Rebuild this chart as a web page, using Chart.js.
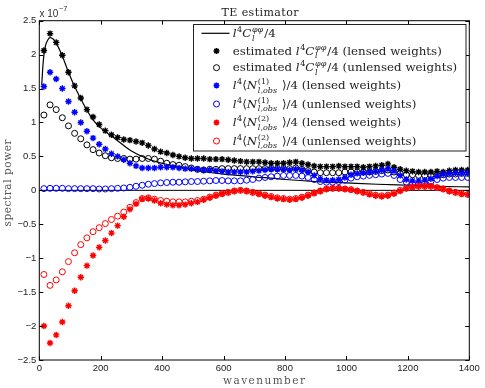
<!DOCTYPE html>
<html><head><meta charset="utf-8">
<script src="https://cdn.jsdelivr.net/npm/chart.js@4/dist/chart.umd.min.js"></script>
<style>html,body{margin:0;padding:0;background:#fff;}#wrap{width:485px;height:388px;}</style>
</head><body><div id="wrap"><canvas id="c" width="485" height="388"></canvas></div>
<script>
// ---- data (values in units of 1e-7) ----
const wavenumbers = [15,35,55,75,95,115,135,155,175,195,
 215,235,255,275,295,315,335,355,375,395,
 415,435,455,475,495,515,535,555,575,595,
 615,635,655,675,695,715,735,755,775,795,
 815,835,855,875,895,915,935,955,975,995,
 1015,1035,1055,1075,1095,1115,1135,1155,1175,1195,
 1215,1235,1255,1275,1295,1315,1335,1355,1375,1395];
const estLensed = [2.06,2.31,2.18,1.99,1.74,1.54,1.36,1.19,1.08,0.97,
 0.88,0.82,0.78,0.75,0.74,0.72,0.70,0.66,0.61,0.57,
 0.55,0.52,0.50,0.48,0.47,0.47,0.47,0.46,0.46,0.46,
 0.45,0.44,0.43,0.42,0.42,0.42,0.41,0.40,0.40,0.40,
 0.41,0.42,0.40,0.38,0.36,0.35,0.35,0.35,0.36,0.35,
 0.35,0.35,0.34,0.35,0.36,0.37,0.39,0.34,0.31,0.29,
 0.28,0.27,0.27,0.27,0.28,0.27,0.29,0.30,0.30,0.30];
const estUnlensed = [1.11,1.26,1.19,1.07,0.95,0.84,0.76,0.67,0.60,0.55,
 0.51,0.48,0.47,0.47,0.46,0.46,0.47,0.47,0.46,0.43,
 0.40,0.38,0.37,0.35,0.33,0.31,0.30,0.31,0.31,0.32,
 0.32,0.32,0.32,0.32,0.32,0.32,0.32,0.32,0.32,0.32,
 0.32,0.33,0.31,0.29,0.27,0.26,0.26,0.26,0.26,0.27,
 0.27,0.27,0.27,0.27,0.28,0.29,0.30,0.27,0.25,0.23,
 0.23,0.22,0.22,0.22,0.23,0.23,0.24,0.24,0.25,0.25];
const n1Lensed = [1.53,1.74,1.64,1.50,1.31,1.15,1.00,0.87,0.77,0.68,
 0.61,0.54,0.50,0.45,0.40,0.36,0.33,0.33,0.33,0.34,
 0.34,0.34,0.33,0.32,0.32,0.31,0.30,0.30,0.29,0.28,
 0.27,0.27,0.27,0.27,0.28,0.29,0.30,0.31,0.31,0.31,
 0.30,0.31,0.30,0.27,0.22,0.17,0.15,0.15,0.16,0.19,
 0.23,0.25,0.26,0.27,0.28,0.30,0.32,0.29,0.22,0.16,
 0.14,0.14,0.15,0.17,0.21,0.24,0.25,0.26,0.26,0.26];
const n1Unlensed = [0.025,0.03,0.03,0.03,0.025,0.025,0.025,0.025,0.025,0.02,
 0.02,0.025,0.03,0.035,0.045,0.06,0.075,0.09,0.10,0.11,
 0.115,0.12,0.12,0.125,0.13,0.13,0.135,0.14,0.145,0.145,
 0.14,0.14,0.14,0.15,0.16,0.18,0.19,0.20,0.21,0.22,
 0.22,0.22,0.21,0.19,0.16,0.13,0.12,0.12,0.13,0.15,
 0.18,0.20,0.21,0.22,0.23,0.24,0.25,0.22,0.16,0.12,
 0.10,0.10,0.11,0.13,0.16,0.18,0.19,0.19,0.19,0.19];
const n2Lensed = [-2.00,-2.25,-2.13,-1.94,-1.70,-1.48,-1.28,-1.11,-0.96,-0.84,
 -0.74,-0.63,-0.52,-0.39,-0.28,-0.20,-0.13,-0.12,-0.15,-0.19,
 -0.21,-0.22,-0.22,-0.21,-0.19,-0.17,-0.14,-0.11,-0.08,-0.05,
 -0.03,-0.01,0.00,-0.01,-0.03,-0.05,-0.08,-0.10,-0.12,-0.13,
 -0.14,-0.13,-0.11,-0.08,-0.04,-0.01,0.02,0.03,0.03,0.02,
 0.01,-0.01,-0.03,-0.06,-0.08,-0.09,-0.08,-0.05,-0.01,0.03,
 0.05,0.06,0.06,0.06,0.04,0.02,-0.01,-0.03,-0.05,-0.06];
const n2Unlensed = [-1.24,-1.40,-1.32,-1.20,-1.05,-0.92,-0.80,-0.70,-0.61,-0.55,
 -0.49,-0.43,-0.38,-0.32,-0.25,-0.18,-0.12,-0.11,-0.13,-0.15,
 -0.16,-0.17,-0.17,-0.17,-0.16,-0.15,-0.13,-0.10,-0.07,-0.05,
 -0.03,-0.01,0.00,-0.01,-0.03,-0.05,-0.07,-0.09,-0.11,-0.12,
 -0.13,-0.12,-0.10,-0.07,-0.04,-0.01,0.02,0.03,0.03,0.02,
 0.01,-0.01,-0.03,-0.05,-0.07,-0.08,-0.07,-0.04,0.00,0.03,
 0.05,0.06,0.06,0.06,0.04,0.02,-0.01,-0.03,-0.05,-0.06];
const theoryL = [8,12,16,20,28,35,45,55,75,95,115,135,155,175,200,250,300,350,400,500,600,700,800,900,1000,1100,1200,1300,1400];
const theoryV = [1.55,1.85,2.03,2.13,2.22,2.25,2.23,2.17,1.98,1.74,1.53,1.35,1.18,1.04,0.92,0.75,0.58,0.47,0.40,0.30,0.24,0.20,0.16,0.13,0.11,0.09,0.075,0.06,0.05];
const zeroL = [0,1400];
const zeroV = [0,0];
const xTicks = [0,200,400,600,800,1000,1200,1400];
const yTicks = [-2.5,-2,-1.5,-1,-0.5,0,0.5,1,1.5,2,2.5];

const pts = (xs, ys) => xs.map((x,i)=>({x, y:ys[i]}));
const SERIF = '"DejaVu Serif", serif';
const SANS = '"Liberation Sans", Arial, sans-serif';

// legend text pieces
const Cpp = [['l','i'],['4','sup'],['C','i'],{sup:'φφ',supI:true,sub:'l',subI:true},['/4','n']];
const Nk = k => [['l','i'],['4','sup'],['⟨','n'],['N','i'],{sup:'('+k+')',supI:false,sub:'l,obs',subI:true},[' ⟩/4','n']];
const legendRows = [
  {kind:'line', color:'#000', text:Cpp},
  {kind:'star', color:'#000', text:[['estimated ','n'],...Cpp,[' (lensed weights)','n']]},
  {kind:'circle', color:'#000', text:[['estimated ','n'],...Cpp,[' (unlensed weights)','n']]},
  {kind:'star', color:'#0000ff', text:[...Nk(1),[' (lensed weights)','n']]},
  {kind:'circle', color:'#0000ff', text:[...Nk(1),[' (unlensed weights)','n']]},
  {kind:'star', color:'#ff0000', text:[...Nk(2),[' (lensed weights)','n']]},
  {kind:'circle', color:'#ff0000', text:[...Nk(2),[' (unlensed weights)','n']]}
];
const legendRowY = [33.3,51,67.7,85.5,104,122.5,141];

function rich(ctx, segs, x, y, s, draw){
  const f = (size,it)=>(it?'italic ':'')+size.toFixed(2)+'px '+SERIF;
  let cx = x;
  for (const g of segs){
    if (g.sup !== undefined){
      ctx.font = f(s*0.68, g.supI); const w1 = ctx.measureText(g.sup).width;
      if (draw) ctx.fillText(g.sup, cx, y - s*0.4);
      ctx.font = f(s*0.68, g.subI); const w2 = ctx.measureText(g.sub).width;
      if (draw) ctx.fillText(g.sub, cx, y + s*0.32);
      cx += Math.max(w1,w2) + 1;
    } else {
      const t=g[0], st=g[1];
      const small = st==='sup';
      ctx.font = f(small ? s*0.68 : s, st==='i');
      if (draw) ctx.fillText(t, cx, small ? y - s*0.4 : y);
      cx += ctx.measureText(t).width + (st==='i'?0.6:0);
    }
  }
  return cx - x;
}
function spaced(ctx, text, cx, y, target){
  const ws = [...text].map(ch=>ctx.measureText(ch).width);
  const sum = ws.reduce((a,b)=>a+b,0);
  const gap = Math.max(0,(target-sum)/(ws.length-1));
  let x = cx - (sum + gap*(ws.length-1))/2;
  [...text].forEach((ch,i)=>{ ctx.fillText(ch, x, y); x += ws[i]+gap; });
}
function drawStar(ctx,x,y,r){
  ctx.beginPath();
  ctx.moveTo(x-r,y); ctx.lineTo(x+r,y);
  ctx.moveTo(x,y-r); ctx.lineTo(x,y+r);
  const d=r*0.7071;
  ctx.moveTo(x-d,y-d); ctx.lineTo(x+d,y+d);
  ctx.moveTo(x-d,y+d); ctx.lineTo(x+d,y-d);
  ctx.stroke();
}

const framePlugin = {
  id:'frame',
  afterDatasetsDraw(chart){
    const {ctx, chartArea:a, scales:{x,y}} = chart;
    ctx.save();
    ctx.strokeStyle='#000'; ctx.lineWidth=1;
    ctx.strokeRect(a.left, a.top, a.right-a.left, a.bottom-a.top);
    ctx.beginPath();
    xTicks.forEach(v=>{const p=Math.round(x.getPixelForValue(v))+0.5; ctx.moveTo(p,a.bottom); ctx.lineTo(p,a.bottom-4); ctx.moveTo(p,a.top); ctx.lineTo(p,a.top+4);});
    yTicks.forEach(v=>{const p=Math.round(y.getPixelForValue(v))+0.5; ctx.moveTo(a.left,p); ctx.lineTo(a.left+4,p); ctx.moveTo(a.right,p); ctx.lineTo(a.right-4,p);});
    ctx.stroke();
    ctx.restore();
  },
  afterDraw(chart){
    const ctx = chart.ctx;
    ctx.save();
    ctx.textBaseline='alphabetic';
    // title
    ctx.fillStyle='#222';
    ctx.font='11px '+SERIF;
    spaced(ctx,'TE estimator',260,15.5,77);
    // axis titles
    ctx.fillStyle='#555';
    ctx.font='10.5px '+SERIF;
    spaced(ctx,'wavenumber',264,384,82);
    ctx.save(); ctx.translate(11,183); ctx.rotate(-Math.PI/2);
    spaced(ctx,'spectral power',0,0,87);
    ctx.restore();
    // exponent label
    ctx.fillStyle='#333';
    ctx.font='10px '+SANS;
    ctx.fillText('x 10',39.5,16.5);
    const wx = ctx.measureText('x 10').width;
    ctx.font='7.5px '+SANS;
    ctx.fillText('\u22127',39.5+wx+0.5,11);
    // legend box
    const L=193.5,T=24.5,R=466,B=151;
    ctx.fillStyle='#fff'; ctx.fillRect(L,T,R-L,B-T);
    ctx.strokeStyle='#222'; ctx.lineWidth=1; ctx.strokeRect(L,T,R-L,B-T);
    const w10 = rich(ctx, legendRows[2].text, 0, 0, 10, false);
    const s = 10*225/w10;
    legendRows.forEach((row,i)=>{
      const cy = legendRowY[i];
      ctx.strokeStyle=row.color; ctx.fillStyle=row.color;
      if(row.kind==='line'){ ctx.lineWidth=1.2; ctx.beginPath(); ctx.moveTo(201.5,cy); ctx.lineTo(229.5,cy); ctx.stroke(); }
      else if(row.kind==='star'){ ctx.lineWidth=1.5; drawStar(ctx,216.5,cy,3); }
      else { ctx.lineWidth=1; ctx.beginPath(); ctx.arc(216.5,cy,3,0,Math.PI*2); ctx.stroke(); }
      ctx.fillStyle='#222';
      rich(ctx,row.text,232.7,cy+3.5,s,true);
    });
    ctx.restore();
  }
};

const starDS = (label,data,color,order)=>({label,data,showLine:false,pointStyle:'star',pointRadius:3.2,pointBorderWidth:1.4,borderColor:color,backgroundColor:color,order});
const circDS = (label,data,color,order)=>({label,data,showLine:false,pointStyle:'circle',pointRadius:3,pointBorderWidth:1,borderColor:color,backgroundColor:'rgba(0,0,0,0)',order});

new Chart(document.getElementById('c'),{
  type:'scatter',
  data:{datasets:[
    {label:'theory',data:pts(theoryL,theoryV),showLine:true,pointRadius:0,borderColor:'#000',borderWidth:1.2,cubicInterpolationMode:'monotone',order:9},
    starDS('est lensed',pts(wavenumbers,estLensed),'#000',8),
    circDS('est unlensed',pts(wavenumbers,estUnlensed),'#000',7),
    starDS('N1 lensed',pts(wavenumbers,n1Lensed),'#0000ff',6),
    circDS('N1 unlensed',pts(wavenumbers,n1Unlensed),'#0000ff',5),
    starDS('N2 lensed',pts(wavenumbers,n2Lensed),'#ff0000',4),
    circDS('N2 unlensed',pts(wavenumbers,n2Unlensed),'#ff0000',3),
    {label:'zero',data:pts(zeroL,zeroV),showLine:true,pointRadius:0,borderColor:'#000',borderWidth:1,order:10}
  ]},
  options:{
    responsive:false, animation:false, devicePixelRatio:1,
    layout:{padding:{top:20.7,right:15.7,left:0,bottom:0}},
    plugins:{legend:{display:false},tooltip:{enabled:false},title:{display:false}},
    scales:{
      x:{type:'linear',min:0,max:1400,
        afterBuildTicks:s=>{s.ticks=xTicks.map(v=>({value:v}));},
        afterFit:s=>{s.height=28;},
        grid:{display:false,drawTicks:false},border:{display:false},
        ticks:{autoSkip:false,maxRotation:0,padding:3,color:'#222',font:{family:SANS,size:9.5},
          callback:v=>String(v)}},
      y:{type:'linear',min:-2.5,max:2.5,
        afterBuildTicks:s=>{s.ticks=yTicks.map(v=>({value:v}));},
        afterFit:s=>{s.width=39.3;},
        grid:{display:false,drawTicks:false},border:{display:false},
        ticks:{autoSkip:false,padding:3,color:'#222',font:{family:SANS,size:9.5},
          callback:v=> v<0 ? '\u2212'+(-v) : String(v)}}
    }
  },
  plugins:[framePlugin]
});
</script></body></html>
